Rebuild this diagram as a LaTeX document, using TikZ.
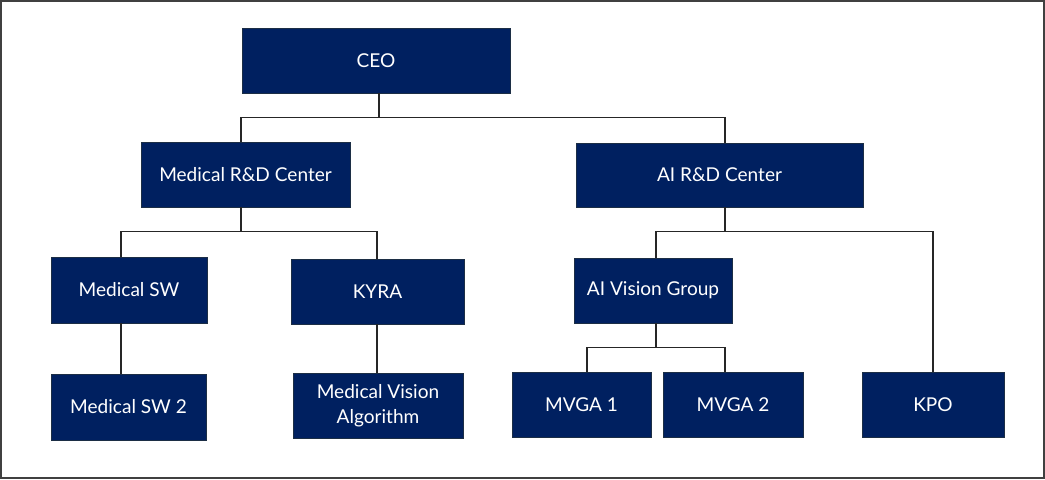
\documentclass[tikz,border=0pt]{standalone}
\usepackage{fontspec}
\setmainfont{Lato}
\usetikzlibrary{calc}
\definecolor{navy}{HTML}{002060}
\definecolor{boxline}{HTML}{1C2E45}
\definecolor{frame}{HTML}{404040}
\tikzset{
  unit/.style={draw=boxline, line width=0.6pt, fill=navy, text=white,
    font=\fontsize{14.3}{19}\selectfont, align=center, inner sep=0pt,
    rectangle, anchor=center},
  conn/.style={draw=black!85, line width=1.1pt}
}
\begin{document}
\begin{tikzpicture}[x=0.75pt,y=-0.75pt]
\useasboundingbox (0,0) rectangle (1045,479);
\draw[frame, line width=1.5pt] (1,1) rectangle (1044,478);
\node[unit, minimum width=268*0.75pt, minimum height=65*0.75pt] (ceo) at (376,60.5) {CEO};
\node[unit, minimum width=209*0.75pt, minimum height=65*0.75pt] (mrd) at (245.5,174.5) {Medical R\&D Center};
\node[unit, minimum width=287*0.75pt, minimum height=64*0.75pt] (aird) at (719.5,175) {AI R\&D Center};
\node[unit, minimum width=156*0.75pt, minimum height=66*0.75pt] (msw) at (129,290) {Medical SW};
\node[unit, minimum width=173*0.75pt, minimum height=65*0.75pt] (kyra) at (377.5,291.5) {KYRA};
\node[unit, minimum width=158*0.75pt, minimum height=65*0.75pt] (aivg) at (653,290.5) {AI Vision Group};
\node[unit, minimum width=155*0.75pt, minimum height=66*0.75pt] (msw2) at (128.5,407) {Medical SW 2};
\node[unit, minimum width=170*0.75pt, minimum height=65*0.75pt] (mva) at (378,405.5) {Medical Vision\\Algorithm};
\node[unit, minimum width=139*0.75pt, minimum height=65*0.75pt] (mvga1) at (581.5,404.5) {MVGA 1};
\node[unit, minimum width=140*0.75pt, minimum height=65*0.75pt] (mvga2) at (733,404.5) {MVGA 2};
\node[unit, minimum width=142*0.75pt, minimum height=65*0.75pt] (kpo) at (933,404.5) {KPO};
% CEO level
\draw[conn] ($(ceo.south)+(3,0)$) -- ++(0,24) -| ($(mrd.north)+(-4.5,0)$);
\draw[conn] ($(ceo.south)+(3,0)$) -- ++(0,24) -| ($(aird.north)+(5.5,0)$);
% Medical R&D
\draw[conn] ($(mrd.south)+(-4.5,0)$) -- ++(0,24) -| ($(msw.north)+(-8,0)$);
\draw[conn] ($(mrd.south)+(-4.5,0)$) -- ++(0,24) -| ($(kyra.north)+(-0.5,0)$);
% AI R&D
\draw[conn] ($(aird.south)+(5.5,0)$) -- ++(0,24) -| ($(aivg.north)+(3,0)$);
\draw[conn] ($(aird.south)+(5.5,0)$) -- ++(0,24) -| (kpo.north);
% AI Vision Group
\draw[conn] ($(aivg.south)+(3,0)$) -- ++(0,24) -| ($(mvga1.north)+(5.5,0)$);
\draw[conn] ($(aivg.south)+(3,0)$) -- ++(0,24) -| ($(mvga2.north)+(-8,0)$);
% single children
\draw[conn] ($(msw.south)+(-8,0)$) -- ($(msw2.north)+(-7.5,0)$);
\draw[conn] ($(kyra.south)+(-0.5,0)$) -- ($(mva.north)+(-1,0)$);
\end{tikzpicture}
\end{document}
